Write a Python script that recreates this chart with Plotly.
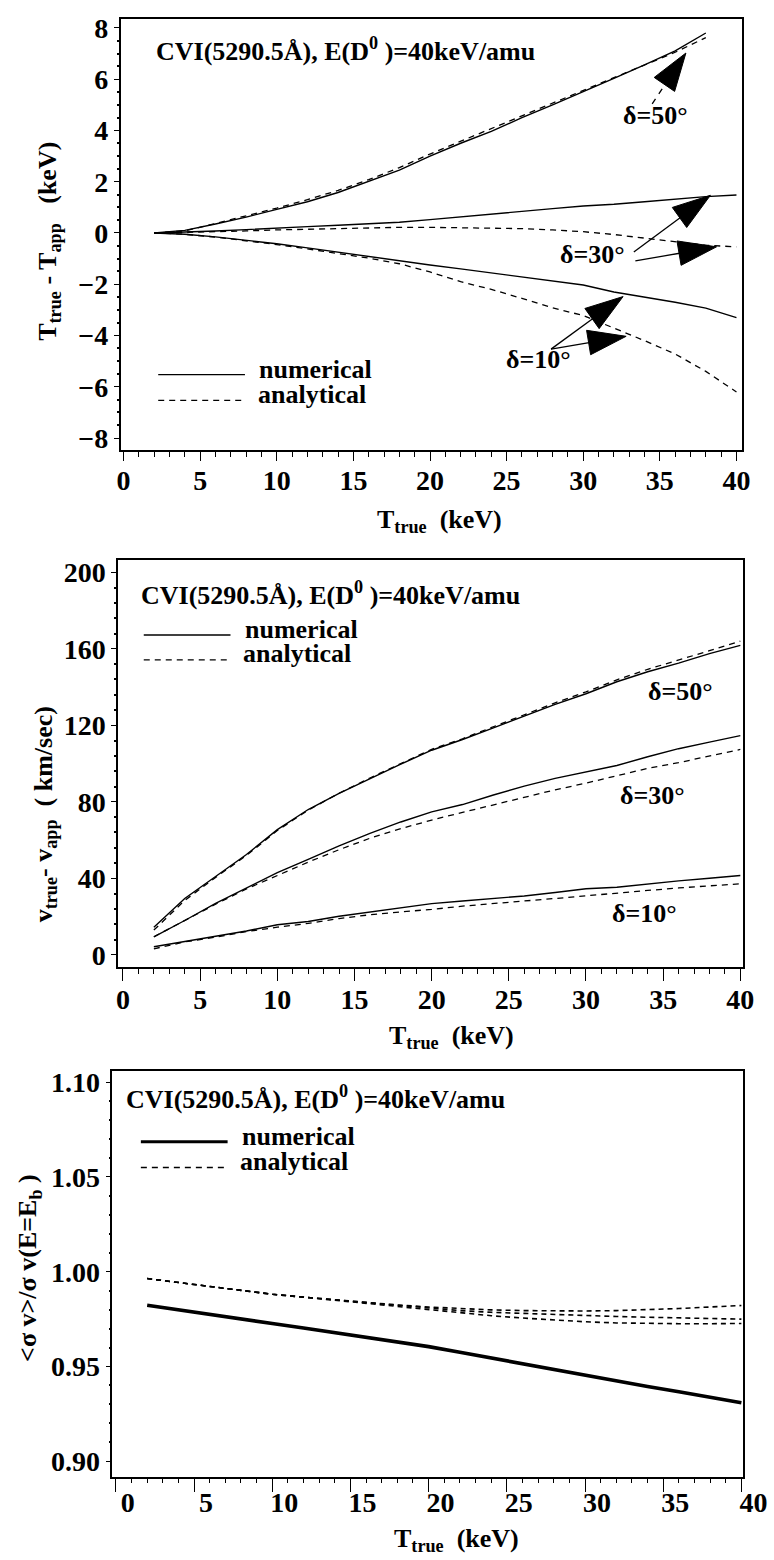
import plotly.graph_objects as go

W, H = 774, 1560

# ---------------- data ----------------
T_grid = [2, 4, 6, 8, 10, 12, 14, 16, 18, 20, 22, 24, 26, 28, 30, 32, 34, 36, 38, 40]
T_grid50 = [2, 4, 6, 8, 10, 12, 14, 16, 18, 20, 22, 24, 26, 28, 30, 32, 34, 36, 38]

# panel 1 : T_true - T_app (keV)
dT_num_50 = [0.0, 0.10, 0.35, 0.62, 0.92, 1.22, 1.58, 2.00, 2.45, 3.00, 3.50, 3.96, 4.50, 5.00, 5.50, 6.03, 6.56, 7.10, 7.80]
dT_ana_50 = [0.0, 0.08, 0.37, 0.66, 0.97, 1.30, 1.66, 2.08, 2.55, 3.08, 3.58, 4.06, 4.58, 5.08, 5.56, 6.06, 6.55, 7.05, 7.62]
dT_num_30 = [0.0, 0.03, 0.08, 0.13, 0.20, 0.25, 0.30, 0.35, 0.42, 0.52, 0.63, 0.75, 0.85, 0.95, 1.05, 1.12, 1.22, 1.32, 1.42, 1.48]
dT_ana_30 = [0.0, 0.02, 0.05, 0.08, 0.12, 0.15, 0.18, 0.20, 0.22, 0.22, 0.21, 0.20, 0.17, 0.12, 0.05, -0.06, -0.20, -0.36, -0.48, -0.54]
dT_num_10 = [0.0, -0.05, -0.15, -0.28, -0.42, -0.58, -0.75, -0.92, -1.10, -1.25, -1.40, -1.56, -1.72, -1.88, -2.03, -2.30, -2.50, -2.70, -2.93, -3.30]
dT_ana_10 = [0.0, -0.05, -0.16, -0.30, -0.45, -0.62, -0.80, -0.98, -1.20, -1.52, -1.90, -2.20, -2.55, -2.92, -3.22, -3.70, -4.20, -4.72, -5.40, -6.20]

# panel 2 : v_true - v_app (km/sec)
dv_num_50 = [14.5, 29.5, 41.0, 52.5, 65.5, 76.0, 84.5, 92.2, 99.7, 107.0, 112.6, 118.7, 125.0, 131.0, 136.5, 142.8, 148.0, 152.5, 157.5, 161.8]
dv_ana_50 = [13.0, 28.5, 40.5, 52.0, 65.0, 75.7, 84.5, 92.5, 100.0, 107.5, 113.0, 119.3, 125.8, 131.8, 137.5, 143.8, 149.3, 154.0, 159.0, 164.0]
dv_num_30 = [9.5, 18.0, 27.0, 35.0, 43.0, 50.0, 57.0, 63.5, 69.5, 74.8, 78.6, 83.6, 88.2, 92.3, 95.5, 99.0, 103.6, 107.8, 111.2, 114.6]
dv_ana_30 = [9.5, 18.0, 26.5, 34.5, 41.5, 48.5, 55.0, 61.0, 66.0, 70.5, 74.5, 78.5, 82.5, 86.3, 89.8, 93.8, 97.5, 100.5, 104.0, 107.4]
dv_num_10 = [4.3, 7.0, 9.5, 12.5, 15.8, 17.5, 20.2, 22.3, 24.6, 26.8, 28.2, 29.5, 30.8, 32.6, 34.6, 35.4, 37.2, 38.7, 40.1, 41.5]
dv_ana_10 = [3.2, 6.8, 9.3, 12.2, 14.5, 16.5, 19.0, 21.0, 22.5, 23.8, 25.5, 27.0, 28.2, 29.5, 31.0, 32.3, 33.7, 35.0, 36.2, 37.2]

# panel 3 : <sigma v>/sigma v(E=E_b)
sv_num = [0.9823, 0.9800, 0.9776, 0.9752, 0.9727, 0.9703, 0.9678, 0.9654, 0.9630, 0.9605, 0.9575, 0.9545, 0.9515, 0.9484, 0.9452, 0.9424, 0.9395, 0.9367, 0.9338, 0.9309]
sv_ana_a = [0.9964, 0.9944, 0.9923, 0.9902, 0.9881, 0.9866, 0.9852, 0.9838, 0.9825, 0.9814, 0.9805, 0.9799, 0.9795, 0.9793, 0.9793, 0.9795, 0.9800, 0.9806, 0.9814, 0.9822]
sv_ana_b = [0.9964, 0.9944, 0.9923, 0.9902, 0.9881, 0.9866, 0.9852, 0.9836, 0.9820, 0.9806, 0.9795, 0.9786, 0.9780, 0.9774, 0.9768, 0.9764, 0.9760, 0.9756, 0.9753, 0.9750]
sv_ana_c = [0.9964, 0.9944, 0.9923, 0.9902, 0.9881, 0.9866, 0.9850, 0.9833, 0.9815, 0.9798, 0.9782, 0.9768, 0.9756, 0.9745, 0.9736, 0.9730, 0.9727, 0.9726, 0.9726, 0.9727]

# label anchors (data coords)
delta_labels_1 = [("δ=50°", 34.7, 4.57), ("δ=30°", 30.6, -0.85), ("δ=10°", 27.1, -4.92)]
delta_labels_2 = [("δ=50°", 36.1, 137.7), ("δ=30°", 34.3, 83.1), ("δ=10°", 33.8, 21.8)]
# arrows: (tail_x, tail_y, head_x, head_y, dashed shaft)
arrows_1 = [
    (34.5, 5.04, 36.7, 7.02, True),
    (33.3, -0.74, 38.3, 1.47, False),
    (33.4, -1.09, 38.7, -0.54, False),
    (27.9, -4.53, 32.6, -2.48, False),
    (27.9, -4.53, 32.8, -4.03, False),
]

# ---------------- styling helpers ----------------
FONT = "Liberation Serif"


def tf(size=26, bold=True):
    d = dict(family=FONT, size=size, color="black")
    if bold:
        d["weight"] = "bold"
    return d


def px_x(p):
    return p / W


def px_y(p):
    return 1 - p / H


SOLID = dict(color="black", width=1.4)
DASH = dict(color="black", width=1.3, dash="6px,5px")

fig = go.Figure()

# panel 1
for xs, ys, ln in [
    (T_grid50, dT_num_50, SOLID), (T_grid50, dT_ana_50, DASH),
    (T_grid, dT_num_30, SOLID), (T_grid, dT_ana_30, DASH),
    (T_grid, dT_num_10, SOLID), (T_grid, dT_ana_10, DASH),
]:
    fig.add_trace(go.Scatter(x=xs, y=ys, mode="lines", line=ln, xaxis="x", yaxis="y",
                             showlegend=False, hoverinfo="skip"))

# panel 2
for ys, ln in [(dv_num_50, SOLID), (dv_ana_50, DASH), (dv_num_30, SOLID),
               (dv_ana_30, DASH), (dv_num_10, SOLID), (dv_ana_10, DASH)]:
    fig.add_trace(go.Scatter(x=T_grid, y=ys, mode="lines", line=ln, xaxis="x2", yaxis="y2",
                             showlegend=False, hoverinfo="skip"))

# panel 3
for ys, ln in [(sv_ana_a, dict(color="black", width=1.6, dash="5px,4px")),
               (sv_ana_b, dict(color="black", width=1.6, dash="5px,4px")),
               (sv_ana_c, dict(color="black", width=1.6, dash="5px,4px")),
               (sv_num, dict(color="black", width=3.6))]:
    fig.add_trace(go.Scatter(x=T_grid, y=ys, mode="lines", line=ln, xaxis="x3", yaxis="y3",
                             showlegend=False, hoverinfo="skip"))

# arrows (panel 1)
for tx, ty, hx, hy, dashed in arrows_1:
    fig.add_trace(go.Scatter(
        x=[tx, hx], y=[ty, hy], mode="lines+markers", xaxis="x", yaxis="y",
        line=dict(color="black", width=1.3, dash="6px,6px" if dashed else "solid"),
        marker=dict(symbol="arrow", size=[0, 40], angleref="previous", color="black",
                    opacity=1, line=dict(width=1, color="black")),
        showlegend=False, hoverinfo="skip"))


def xaxis(domain, rng, anchor, ticklen, shift=0, standoff=0):
    return dict(domain=domain, range=rng, anchor=anchor, tick0=0, dtick=5,
                ticks="outside", ticklen=ticklen, tickwidth=1.3, tickcolor="black",
                minor=dict(ticks="outside", ticklen=5, dtick=1, tick0=0, tickwidth=1.1,
                           tickcolor="black"),
                showline=True, linewidth=1.5, linecolor="black", mirror=True,
                showgrid=False, zeroline=False, tickfont=tf(28),
                ticklabelshift=shift, ticklabelstandoff=standoff,
                ticklabeloverflow="allow")


def yaxis(domain, rng, anchor, dtick, mdtick, fmt=None):
    d = dict(domain=domain, range=rng, anchor=anchor, dtick=dtick, tick0=0,
             ticks="outside", ticklen=5, tickwidth=1.3, tickcolor="black",
             minor=dict(ticks="outside", ticklen=2, dtick=mdtick, tickwidth=1.5,
                        tickcolor="black"),
             showline=True, linewidth=1.5, linecolor="black", mirror=True,
             showgrid=False, zeroline=False, tickfont=tf(28), ticklabelstandoff=0,
             ticklabeloverflow="allow")
    if fmt:
        d["tickformat"] = fmt
    return d


fig.update_layout(
    width=W, height=H, margin=dict(l=0, r=0, t=0, b=0),
    paper_bgcolor="white", plot_bgcolor="white",
    xaxis=xaxis([px_x(121), px_x(766)], [-0.19, 40.38], "y", 9, standoff=-4),
    yaxis=yaxis([px_y(447), px_y(13)], [-8.47, 8.35], "x", 2, 0.5),
    xaxis2=xaxis([px_x(118.5), px_x(767)], [-0.31, 40.19], "y2", 12, standoff=-5),
    yaxis2=yaxis([px_y(967), px_y(558)], [-6.2, 206.2], "x2", 40, 8),
    xaxis3=xaxis([px_x(112.5), px_x(767)], [-0.22, 40.12], "y3", 14, shift=12, standoff=-14),
    yaxis3=yaxis([px_y(1480), px_y(1072)], [0.892, 1.1058], "x3", 0.05, 0.01, ".2f"),
)

ann = []
shapes = []
title_txt = "CVI(5290.5Å), E(D<sup>0</sup> )=40keV/amu"
for (tx, ty) in [(156, 44), (140, 591), (124, 1099)]:
    ann.append(dict(text=title_txt, x=px_x(tx), y=px_y(ty), xref="paper", yref="paper",
                    xanchor="left", yanchor="middle", showarrow=False, font=tf(26)))

# legends
for (lx, ly_num, ly_ana, wnum) in [(160, 371, 397, 1.4), (145, 633, 658, 1.4), (142, 1143, 1169, 3.0)]:
    shapes.append(dict(type="line", xref="paper", yref="paper",
                       x0=px_x(lx), x1=px_x(lx + 90), y0=px_y(ly_num), y1=px_y(ly_num),
                       line=dict(color="black", width=wnum)))
    shapes.append(dict(type="line", xref="paper", yref="paper",
                       x0=px_x(lx), x1=px_x(lx + 90), y0=px_y(ly_ana), y1=px_y(ly_ana),
                       line=dict(color="black", width=1.3, dash="6px,5px")))
    ann.append(dict(text="numerical", x=px_x(lx + 103), y=px_y(ly_num - 5), xref="paper",
                    yref="paper", xanchor="left", yanchor="middle", showarrow=False, font=tf(26)))
    ann.append(dict(text="analytical", x=px_x(lx + 101), y=px_y(ly_ana - 6), xref="paper",
                    yref="paper", xanchor="left", yanchor="middle", showarrow=False, font=tf(26)))

# delta labels
for txt, x, y in delta_labels_1:
    ann.append(dict(text=txt, x=x, y=y, xref="x", yref="y", showarrow=False, font=tf(26),
                    xanchor="center", yanchor="middle"))
for txt, x, y in delta_labels_2:
    ann.append(dict(text=txt, x=x, y=y, xref="x2", yref="y2", showarrow=False, font=tf(26),
                    xanchor="center", yanchor="middle"))

# axis titles
xt = "T<sub>true</sub>  (keV)"
for (cx, cy) in [(452, 518), (464, 1038), (470, 1544)]:
    ann.append(dict(text=xt, x=px_x(cx), y=px_y(cy), xref="paper", yref="paper",
                    xanchor="center", yanchor="middle", showarrow=False, font=tf(26)))
for txt, cx, cy in [("T<sub>true</sub> - T<sub>app</sub>   (keV)", 47, 237),
                    ("v<sub>true</sub>- v<sub>app</sub>  ( km/sec)", 42, 813),
                    ("&lt;σ v&gt;/σ v(E=E<sub>b</sub> )", 26, 1270)]:
    ann.append(dict(text=txt, x=px_x(cx), y=px_y(cy), xref="paper", yref="paper",
                    xanchor="center", yanchor="middle", textangle=-90, showarrow=False,
                    font=tf(26)))

fig.update_layout(annotations=ann, shapes=shapes)
fig.write_html("out.html")
